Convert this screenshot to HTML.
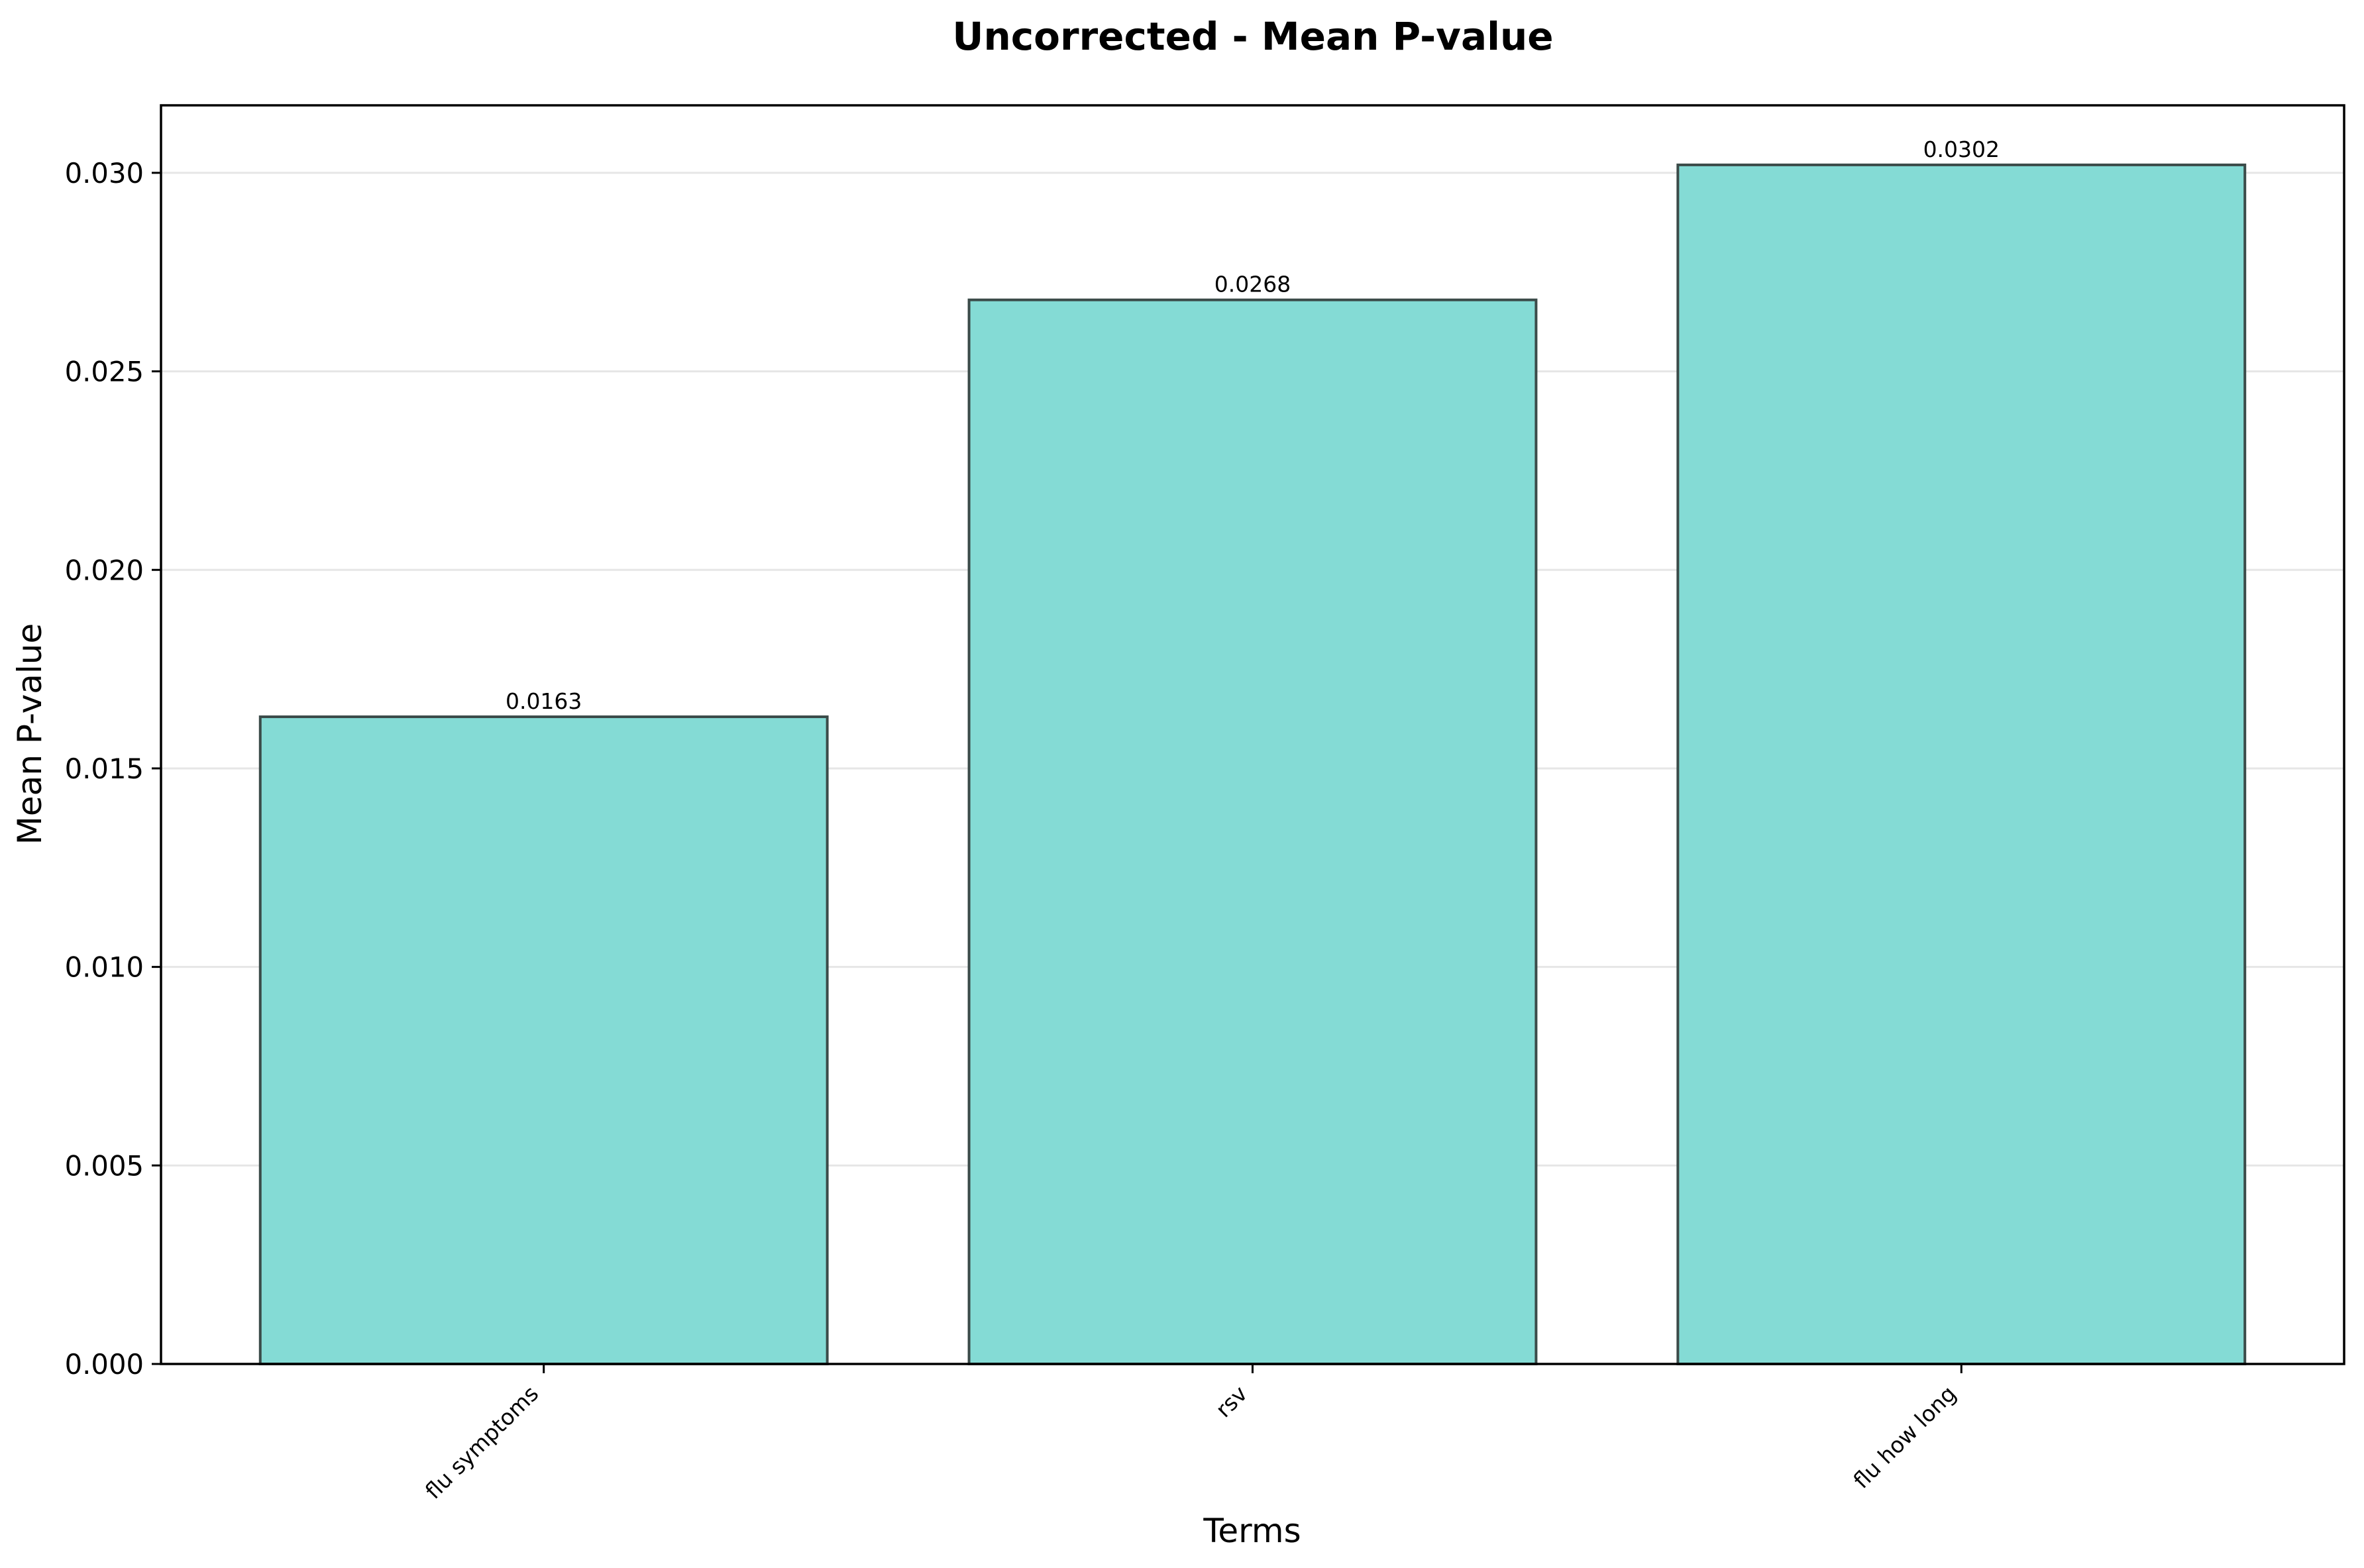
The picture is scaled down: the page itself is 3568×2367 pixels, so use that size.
<!DOCTYPE html>
<html><head><meta charset="utf-8"><style>
html,body{margin:0;padding:0;background:#fff;}
svg{display:block;font-family:"DejaVu Sans","Liberation Sans",sans-serif;}
</style></head><body>
<svg id="chart" width="3568" height="2367" viewBox="0 0 3568 2367">
<text x="1891" y="75" text-anchor="middle" font-size="58" font-weight="bold">Uncorrected - Mean P-value</text>
<g id="grid"></g>
<g id="bars"></g>
<g id="axes"></g>
<text x="1890" y="2328" text-anchor="middle" font-size="50">Terms</text>
<text transform="translate(62,1108) rotate(-90)" text-anchor="middle" font-size="50">Mean P-value</text>
</svg>
<script>
const categories = ["flu symptoms", "rsv", "flu how long"];
const values = [0.0163, 0.0268, 0.0302];
const valueLabels = ["0.0163", "0.0268", "0.0302"];
const yTicks = [0, 0.005, 0.010, 0.015, 0.020, 0.025, 0.030];
const yTickLabels = ["0.000", "0.005", "0.010", "0.015", "0.020", "0.025", "0.030"];

const L = 243, R = 3538, T = 159, B = 2059;
const yMax = 0.0317;
const NS = "http://www.w3.org/2000/svg";
const xMin = -0.54, xMax = categories.length - 1 + 0.54;
function xs(i){ return L + (i - xMin) / (xMax - xMin) * (R - L); }
function ys(v){ return B - v / yMax * (B - T); }
const unit = (R - L) / (xMax - xMin);
function mk(tag, attrs, parent){ const e = document.createElementNS(NS, tag); for (const k in attrs) e.setAttribute(k, attrs[k]); parent.appendChild(e); return e; }

const grid = document.getElementById('grid');
const bars = document.getElementById('bars');
const axes = document.getElementById('axes');

yTicks.forEach((t, i) => {
  const y = ys(t);
  const g = mk('line', {x1: L, x2: R, y1: y, y2: y, stroke: '#e6e6e6', 'stroke-width': 3}, grid);
  
  
  const tk = mk('line', {x1: L - 14, x2: L, y1: y, y2: y, stroke: '#000', 'stroke-width': 3}, axes);
  
  
  const lb = mk('text', {x: L - 26, y: y + 15, 'text-anchor': 'end', 'font-size': 41.7}, axes);
  lb.textContent = yTickLabels[i];
  
  
});

categories.forEach((c, i) => {
  const cx = xs(i), w = 0.8 * unit, top = ys(values[i]);
  const r = mk('rect', {x: cx - w/2, y: top, width: w, height: B - top, fill: '#84dbd5', stroke: '#3b4b49', 'stroke-width': 4}, bars);
  
  
  const v = mk('text', {x: cx, y: top - 12, 'text-anchor': 'middle', 'font-size': 33}, bars);
  v.textContent = valueLabels[i];
  
  
  const tk = mk('line', {x1: cx, x2: cx, y1: B, y2: B + 14, stroke: '#000', 'stroke-width': 3}, axes);
  
  
  const x0 = cx - 6, y0 = B + 47;
  const lb = mk('text', {x: x0, y: y0, 'text-anchor': 'end', 'font-size': 33, transform: 'rotate(-45 ' + x0 + ' ' + y0 + ')'}, axes);
  lb.textContent = c;
  
  
});

const frame = mk('rect', {x: L, y: T, width: R - L, height: B - T, fill: 'none', stroke: '#000', 'stroke-width': 3.5}, axes);


</script>
</body></html>
